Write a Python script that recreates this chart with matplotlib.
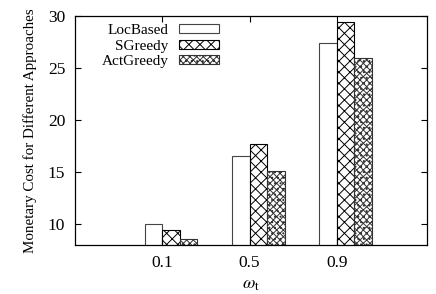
import matplotlib.pyplot as plt
import numpy as np

plt.rcParams['font.family'] = ['Liberation Serif', 'DejaVu Serif']
plt.rcParams['mathtext.fontset'] = 'stix'
plt.rcParams['hatch.linewidth'] = 0.7

# data
omega = ["0.1", "0.5", "0.9"]
locbased = [10.05, 16.5, 27.4]
sgreedy = [9.4, 17.7, 29.4]
actgreedy = [8.6, 15.1, 26.0]

x = np.arange(len(omega))
w = 0.2

fig = plt.figure(figsize=(4.36, 2.94), dpi=100)
ax = fig.add_axes([0.172, 0.167, 0.807, 0.779])

ax.bar(x - 0.1, locbased, w, color='white', edgecolor='#444444', linewidth=0.8, label='LocBased')
ax.bar(x + 0.1, sgreedy, w, color='white', edgecolor='black', linewidth=0.8, hatch='xxx', label='SGreedy')
ax.bar(x + 0.3, actgreedy, w, color='white', edgecolor='#333333', linewidth=0.8, hatch='xxxxx...', label='ActGreedy')

ax.set_xlim(-1, 3.03)
ax.set_ylim(8, 30)
ax.set_xticks(x)
ax.set_xticklabels(omega)
ax.set_yticks([10, 15, 20, 25, 30])
ax.tick_params(direction='in', top=True, right=True, labelsize=12.5, length=4, width=0.8, pad=7)
for s in ax.spines.values():
    s.set_linewidth(0.9)

ax.set_xlabel(r'$\omega_{\rm t}$', fontsize=13, labelpad=4)
ax.set_ylabel('Monetary Cost for Different Approaches', fontsize=10.8, labelpad=8)

ax.legend(loc='upper left', bbox_to_anchor=(0.045, 1.01), frameon=False, markerfirst=False,
          fontsize=11, handlelength=2.6, handleheight=0.55, labelspacing=0.15, borderaxespad=0.3,
          handletextpad=0.7)

plt.savefig("out.png", dpi=100)
